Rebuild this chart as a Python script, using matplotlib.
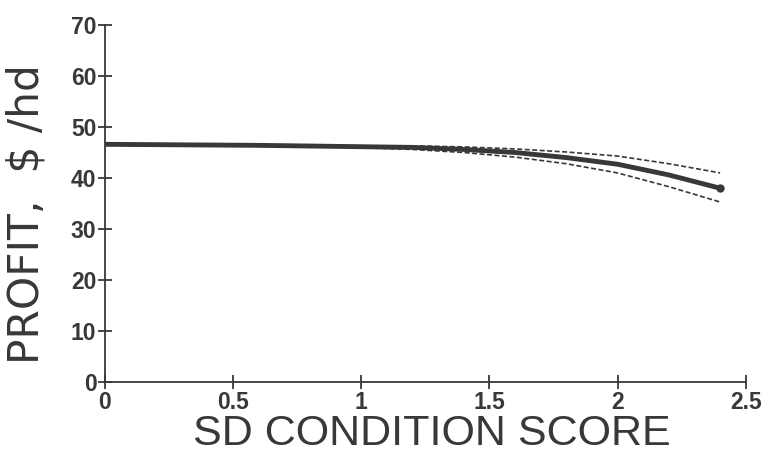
import matplotlib.pyplot as plt

plt.rcParams['font.family'] = ['Liberation Sans', 'DejaVu Sans']

sd_score = [0, 0.3, 0.6, 0.9, 1.2, 1.4, 1.6, 1.8, 2.0, 2.2, 2.4]
profit = [46.6, 46.5, 46.4, 46.2, 46.0, 45.6, 45.0, 44.0, 42.7, 40.6, 38.0]
profit_upper = [46.6, 46.5, 46.4, 46.3, 46.3, 46.1, 45.7, 45.1, 44.3, 42.8, 41.0]
profit_lower = [46.6, 46.5, 46.4, 46.1, 45.6, 45.0, 44.1, 42.8, 41.0, 38.3, 35.3]

xticks = [0, 0.5, 1, 1.5, 2, 2.5]
xticklabels = ['0', '0.5', '1', '1.5', '2', '2.5']
yticks = [0, 10, 20, 30, 40, 50, 60, 70]

INK = '#383838'

fig = plt.figure(figsize=(7.76, 4.61), dpi=100, facecolor='white')
ax = fig.add_axes([0.135, 0.171, 0.826, 0.775])

ax.plot(sd_score, profit_upper, ls=(0, (3, 1.5)), lw=1.2, color=INK)
ax.plot(sd_score, profit_lower, ls=(0, (3, 1.5)), lw=1.2, color=INK)
ax.plot(sd_score, profit, lw=3.5, color=INK, solid_capstyle='round')
ax.plot(sd_score[-1], profit[-1], 'o', ms=5, color=INK)

ax.set_xlim(0, 2.5)
ax.set_ylim(0, 70)
ax.set_xticks(xticks)
ax.set_xticklabels(xticklabels)
ax.set_yticks(yticks)

for s in ['top', 'right']:
    ax.spines[s].set_visible(False)
for s in ['left', 'bottom']:
    ax.spines[s].set_color(INK)
    ax.spines[s].set_linewidth(1.3)

ax.tick_params(direction='inout', length=10, width=1.3, color=INK,
               labelsize=16.5, labelcolor=INK, pad=1)
for lbl in ax.get_xticklabels() + ax.get_yticklabels():
    lbl.set_fontweight('bold')

ax.set_xlabel('SD CONDITION SCORE', fontsize=31, color=INK)
ax.xaxis.set_label_coords(0.51, -0.09)
ax.set_ylabel('PROFIT,  $ /hd', fontsize=30.5, color=INK,
              family=['DejaVu Sans'])
ax.yaxis.set_label_coords(-0.09, 0.47)

fig.savefig('out.png', dpi=100, facecolor='white')
